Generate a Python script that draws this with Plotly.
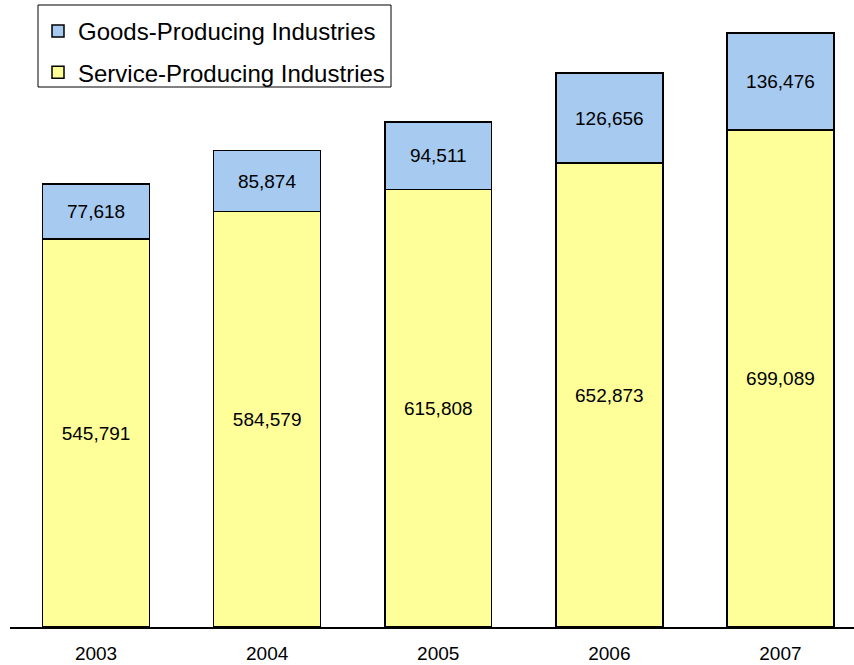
import plotly.graph_objects as go

years = ["2003", "2004", "2005", "2006", "2007"]
service = [545791, 584579, 615808, 652873, 699089]
goods = [77618, 85874, 94511, 126656, 136476]

FONT = "Liberation Sans, Arial, sans-serif"
W, H = 854, 665
L, B = 10, 38
PW, PH = W - L, H - B

def fmt(v):
    return f"{v:,}"

fig = go.Figure()
fig.add_trace(go.Bar(
    x=years, y=service, name="Service-Producing Industries",
    legendgroup="s", legendrank=2,
    marker=dict(color="#FFFF99", line=dict(color="#000000", width=1.5)),
    text=[fmt(v) for v in service], textposition="inside",
    insidetextanchor="middle", textangle=0,
    textfont=dict(family=FONT, size=19, color="#000000"),
    hoverinfo="skip",
))
fig.add_trace(go.Bar(
    x=years, y=goods, name="Goods-Producing Industries",
    legendgroup="g", legendrank=1,
    marker=dict(color="#A6CAF0", line=dict(color="#000000", width=1.5)),
    text=[fmt(v) for v in goods], textposition="inside",
    insidetextanchor="middle", textangle=0,
    textfont=dict(family=FONT, size=19, color="#000000"),
    hoverinfo="skip",
))

fig.update_layout(
    width=W, height=H,
    barmode="stack", bargap=0.375,
    plot_bgcolor="white", paper_bgcolor="white",
    margin=dict(l=L, r=0, t=0, b=B, autoexpand=False),
    font=dict(family=FONT, size=19, color="#000000"),
    uniformtext=dict(mode=False),
    showlegend=True,
    legend=dict(
        x=(38 - L) / PW, y=1 - 9 / PH, xanchor="left", yanchor="top",
        traceorder="grouped", tracegroupgap=7,
        font=dict(family=FONT, size=24, color="#000000"),
        bgcolor="rgba(0,0,0,0)", borderwidth=0,
    ),
    shapes=[dict(
        type="rect", xref="paper", yref="paper",
        x0=(38 - L) / PW, x1=(391 - L) / PW,
        y0=(PH - 87) / PH, y1=(PH - 5) / PH,
        line=dict(color="#000000", width=1), fillcolor="rgba(0,0,0,0)",
        layer="above",
    )],
)

fig.update_xaxes(
    type="category", range=[-0.503, 4.43],
    showline=True, linecolor="#000000", linewidth=2,
    ticks="outside", ticklen=8, tickcolor="rgba(0,0,0,0)",
    tickfont=dict(family=FONT, size=19, color="#000000"),
    showgrid=False, zeroline=False,
)
fig.update_yaxes(
    range=[0, 882300], visible=False, showgrid=False, zeroline=False,
)

fig.write_html("out.html")
